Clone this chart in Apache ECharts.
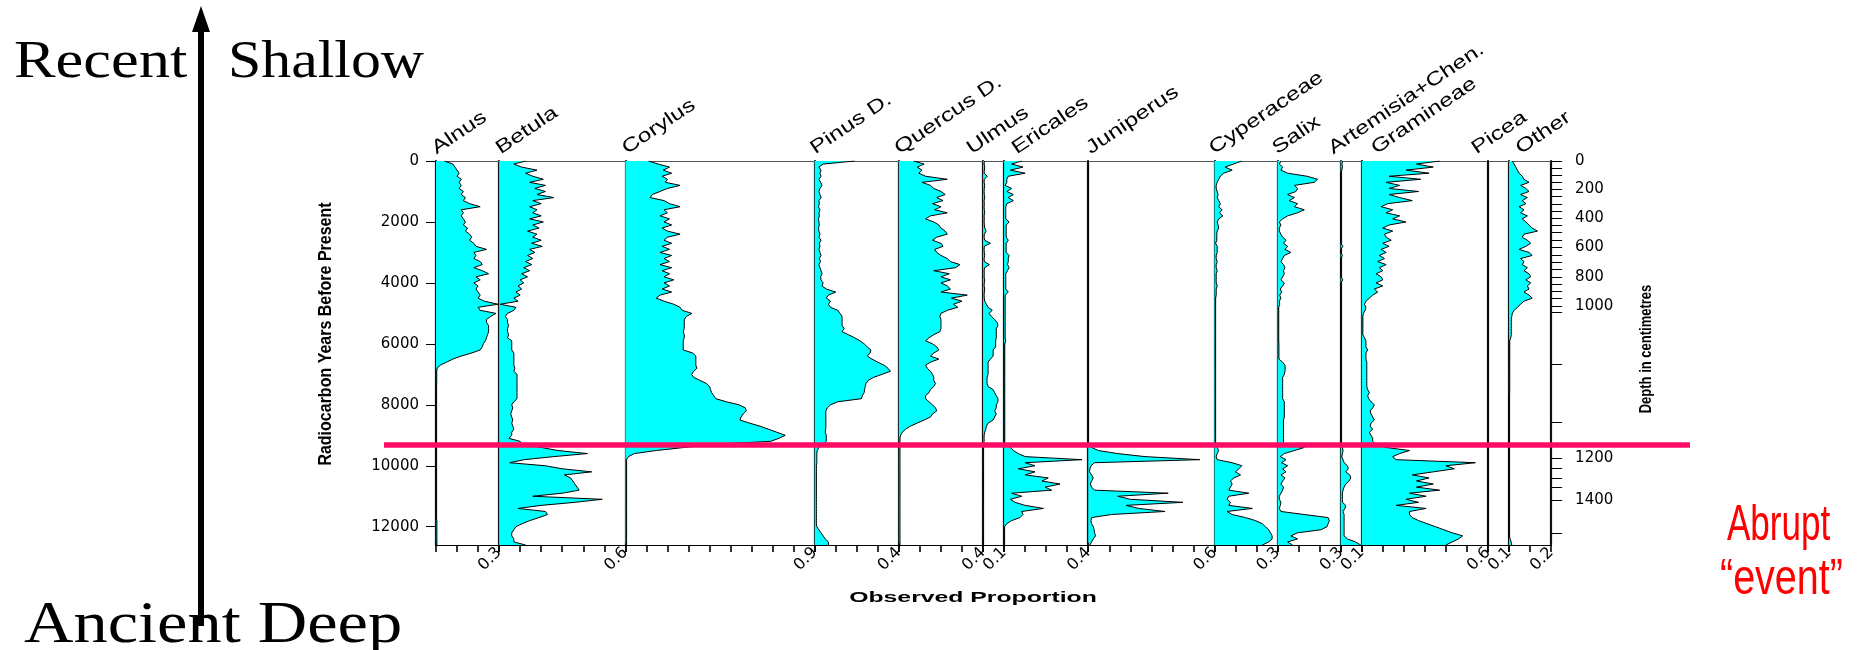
<!DOCTYPE html>
<html><head><meta charset="utf-8">
<script src="https://cdn.jsdelivr.net/npm/echarts@6/dist/echarts.min.js"></script>
<style>html,body{margin:0;padding:0;background:#fff}#c{width:1857px;height:650px}</style>
</head><body><div id="c"></div>
<script>
// sample ages (years BP), 100-year grid
const ages = [0,100,200,300,400,500,600,700,800,900,1000,1100,1200,1300,1400,1500,1600,1700,1800,1900,
2000,2100,2200,2300,2400,2500,2600,2700,2800,2900,3000,3100,3200,3300,3400,3500,3600,3700,3800,3900,
4000,4100,4200,4300,4400,4500,4600,4700,4800,4900,5000,5100,5200,5300,5400,5500,5600,5700,5800,5900,
6000,6100,6200,6300,6400,6500,6600,6700,6800,6900,7000,7100,7200,7300,7400,7500,7600,7700,7800,7900,
8000,8100,8200,8300,8400,8500,8600,8700,8800,8900,9000,9100,9200,9300,9400,9500,9600,9700,9800,9900,
10000,10100,10200,10300,10400,10500,10600,10700,10800,10900,11000,11100,11200,11300,11400,11500,11600,11700,11800,11900,
12000,12100,12200,12300,12400,12500,12600];

const taxa = ['Alnus','Betula','Corylus','Pinus D.','Quercus D.','Ulmus','Ericales','Juniperus','Cyperaceae','Salix','Artemisia+Chen.','Gramineae','Picea','Other'];
const panelMax = [0.3,0.6,0.9,0.4,0.4,0.1,0.4,0.6,0.3,0.3,0.1,0.6,0.1,0.2];
const tickLabels = ['0.3','0.6','0.9','0.4','0.4','0.1','0.4','0.6','0.3','0.3','0.1','0.6','0.1','0.2'];

const alnus = [
0.04,0.08,0.09,0.10,0.11,0.10,0.12,0.11,0.12,0.11,
0.13,0.12,0.14,0.13,0.16,0.21,0.12,0.13,0.12,0.13,
0.14,0.13,0.15,0.14,0.16,0.17,0.16,0.18,0.19,0.24,
0.18,0.19,0.18,0.21,0.22,0.18,0.22,0.25,0.19,0.21,
0.18,0.20,0.19,0.20,0.21,0.20,0.23,0.295,0.20,0.21,
0.285,0.26,0.24,0.24,0.25,0.25,0.25,0.245,0.24,0.235,
0.225,0.22,0.21,0.17,0.12,0.08,0.05,0.02,0.005,0.003,
0.003,0.003,0.003,0.003,0,0,0,0,0,0,
0,0,0,0,0,0,0,0,0,0,
0,0,0,0,0,0,0,0,0,0,
0,0,0,0,0,0,0,0,0,0,
0,0,0,0,0,0,0,0,0.004,0.004,
0.004,0.004,0.004,0.004,0.004,0.004,0.004];
const betula = [
0.126,0.07,0.107,0.18,0.126,0.16,0.21,0.145,0.22,0.17,
0.22,0.18,0.26,0.16,0.20,0.145,0.18,0.16,0.20,0.145,
0.21,0.16,0.19,0.135,0.18,0.16,0.20,0.155,0.205,0.145,
0.17,0.135,0.16,0.126,0.155,0.117,0.145,0.107,0.135,0.10,
0.117,0.09,0.107,0.08,0.10,0.07,0.09,0.005,0.08,0.07,
0.04,0.03,0.04,0.04,0.045,0.04,0.04,0.045,0.04,0.06,
0.06,0.06,0.06,0.07,0.07,0.07,0.07,0.07,0.075,0.07,
0.085,0.085,0.085,0.085,0.085,0.085,0.085,0.085,0.085,0.07,
0.06,0.065,0.06,0.055,0.06,0.065,0.06,0.065,0.07,0.06,
0.06,0.047,0.10,0.11,0.20,0.28,0.42,0.26,0.12,0.05,
0.22,0.30,0.44,0.31,0.34,0.35,0.36,0.37,0.38,0.30,
0.16,0.49,0.36,0.20,0.09,0.22,0.23,0.19,0.145,0.11,
0.08,0.07,0.06,0.06,0.07,0.07,0.126];
const corylus = [
0.11,0.156,0.21,0.18,0.22,0.175,0.20,0.19,0.26,0.20,
0.165,0.128,0.118,0.184,0.21,0.26,0.184,0.20,0.165,0.21,
0.184,0.22,0.175,0.20,0.26,0.20,0.184,0.22,0.175,0.21,
0.165,0.22,0.184,0.21,0.165,0.22,0.175,0.21,0.184,0.23,
0.184,0.21,0.175,0.22,0.165,0.147,0.184,0.23,0.26,0.27,
0.316,0.29,0.28,0.28,0.28,0.28,0.275,0.28,0.28,0.275,
0.275,0.275,0.275,0.32,0.335,0.335,0.335,0.335,0.34,0.325,
0.315,0.325,0.355,0.385,0.40,0.405,0.41,0.42,0.43,0.48,
0.54,0.57,0.575,0.56,0.55,0.545,0.59,0.64,0.68,0.72,
0.76,0.73,0.69,0.41,0.28,0.147,0.043,0.015,0.004,0.004,
0.004,0.004,0.004,0.004,0.004,0.004,0.004,0.004,0.004,0.004,
0.004,0.004,0.004,0.004,0.004,0.004,0.004,0.004,0.004,0.004,
0.004,0.004,0.004,0.004,0.004,0.004,0.004];
const pinus = [
0.19,0.04,0.02,0.03,0.025,0.03,0.02,0.028,0.035,0.025,
0.02,0.025,0.03,0.02,0.022,0.018,0.025,0.02,0.022,0.018,
0.02,0.022,0.018,0.02,0.025,0.02,0.03,0.022,0.025,0.02,
0.025,0.03,0.022,0.028,0.02,0.025,0.03,0.035,0.028,0.03,
0.04,0.035,0.055,0.10,0.065,0.055,0.075,0.065,0.075,0.11,
0.12,0.13,0.13,0.13,0.13,0.14,0.13,0.16,0.19,0.215,
0.235,0.25,0.267,0.263,0.25,0.272,0.30,0.33,0.348,0.36,
0.32,0.28,0.254,0.244,0.24,0.237,0.235,0.226,0.222,0.11,
0.075,0.06,0.053,0.053,0.053,0.053,0.053,0.053,0.052,0.05,
0.055,0.055,0.055,0.04,0.02,0.012,0.01,0.01,0.01,0.01,
0.008,0.008,0.008,0.008,0.008,0.008,0.008,0.008,0.008,0.008,
0.008,0.008,0.008,0.008,0.008,0.008,0.008,0.008,0.008,0.008,
0.01,0.02,0.03,0.04,0.05,0.065,0.065];
const quercus = [
0.07,0.12,0.087,0.11,0.095,0.127,0.23,0.11,0.15,0.166,
0.20,0.22,0.18,0.21,0.16,0.20,0.17,0.23,0.15,0.127,
0.166,0.19,0.20,0.22,0.23,0.18,0.16,0.20,0.21,0.17,
0.18,0.20,0.23,0.245,0.29,0.27,0.166,0.24,0.20,0.245,
0.20,0.23,0.245,0.20,0.325,0.25,0.30,0.26,0.28,0.23,
0.20,0.195,0.20,0.20,0.20,0.20,0.195,0.166,0.143,0.127,
0.16,0.18,0.19,0.166,0.15,0.19,0.15,0.127,0.135,0.15,
0.16,0.166,0.166,0.174,0.166,0.15,0.143,0.127,0.127,0.143,
0.16,0.174,0.18,0.16,0.15,0.12,0.087,0.055,0.032,0.016,
0.008,0.005,0.005,0.005,0.005,0.005,0.005,0.005,0.005,0.005,
0.005,0.005,0.005,0.005,0.005,0.005,0.005,0.005,0.005,0.005,
0.005,0.005,0.005,0.005,0.005,0.005,0.005,0.005,0.005,0.005,
0.005,0.005,0.005,0.005,0.005,0.005,0.005];
const ulmus = [
0.006,0.005,0.008,0.006,0.005,0.02,0.006,0.005,0.008,0.006,
0.005,0.006,0.008,0.005,0.006,0.005,0.006,0.008,0.005,0.006,
0.005,0.006,0.008,0.015,0.006,0.005,0.008,0.035,0.006,0.005,
0.006,0.008,0.005,0.006,0.03,0.008,0.005,0.006,0.005,0.008,
0.006,0.005,0.008,0.006,0.005,0.006,0.008,0.016,0.024,0.044,
0.028,0.04,0.055,0.067,0.071,0.063,0.063,0.063,0.063,0.06,
0.06,0.06,0.048,0.048,0.048,0.035,0.024,0.024,0.024,0.024,
0.024,0.019,0.019,0.019,0.024,0.048,0.055,0.063,0.071,0.071,
0.063,0.063,0.055,0.063,0.055,0.048,0.024,0.016,0.013,0.008,
0.005,0.005,0.005,0.004,0.002,0.002,0.002,0.002,0.002,0.002,
0.002,0.002,0.002,0.002,0.002,0.002,0.002,0.002,0.002,0.002,
0.002,0.002,0.002,0.002,0.002,0.002,0.002,0.002,0.002,0.002,
0.002,0.002,0.002,0.002,0.002,0.002,0.002];
const ericales = [
0.084,0.036,0.09,0.03,0.10,0.02,0.013,0.013,0.005,0.036,
0.013,0.044,0.02,0.044,0.013,0.008,0.008,0.008,0.008,0.008,
0.024,0.01,0.01,0.01,0.01,0.01,0.02,0.01,0.01,0.01,
0.01,0.024,0.02,0.02,0.016,0.024,0.016,0.008,0.008,0.008,
0.008,0.008,0.008,0.02,0.005,0.005,0.005,0.005,0.005,0.005,
0.005,0.005,0.005,0.005,0.005,0.005,0.005,0.005,0.005,0.008,
0.003,0.003,0.003,0.003,0.003,0.003,0.003,0.003,0.003,0.003,
0.003,0.003,0.003,0.003,0.003,0.003,0.003,0.003,0.003,0.003,
0.003,0.003,0.003,0.003,0.003,0.003,0.003,0.003,0.003,0.003,
0.003,0.003,0.003,0.002,0.03,0.044,0.068,0.10,0.37,0.10,
0.147,0.068,0.147,0.10,0.21,0.18,0.266,0.195,0.226,0.036,
0.084,0.03,0.052,0.10,0.187,0.084,0.09,0.076,0.036,0.013,
0.002,0,0,0,0,0,0];
const juniperus = [
0,0,0,0,0,0,0,0,0,0,
0,0,0,0,0,0,0,0,0,0,
0,0,0,0,0,0,0,0,0,0,
0,0,0,0,0,0,0,0,0,0,
0,0,0,0,0,0,0,0,0,0,
0,0,0,0,0,0,0,0,0,0,
0,0,0,0,0,0,0,0,0,0,
0,0,0,0,0,0,0,0,0,0,
0,0,0,0,0,0,0,0,0,0,
0,0,0,0,0.016,0.048,0.14,0.27,0.53,0.03,
0.013,0.008,0.006,0.016,0.024,0.016,0.01,0.016,0.03,0.38,
0.14,0.20,0.45,0.18,0.24,0.365,0.11,0.016,0.013,0.016,
0.024,0.028,0.03,0.035,0.024,0.016,0.008];
const cyperaceae = [
0.13,0.09,0.05,0.084,0.044,0.028,0.02,0.013,0.008,0.008,
0.013,0.017,0.013,0.02,0.028,0.02,0.036,0.024,0.04,0.02,
0.013,0.017,0.02,0.013,0.011,0.011,0.011,0.005,0.013,0.013,
0.013,0.008,0.008,0.013,0.008,0.008,0.013,0.008,0.008,0.008,
0.008,0.013,0.008,0.008,0.008,0.005,0.005,0.005,0.005,0.005,
0.005,0.005,0.005,0.005,0.005,0.005,0.005,0.005,0.005,0.005,
0.005,0.005,0.005,0.005,0.005,0.005,0.005,0.005,0.005,0.005,
0.005,0.005,0.005,0.005,0.005,0.005,0.005,0.005,0.005,0.005,
0.005,0.005,0.005,0.005,0.005,0.005,0.005,0.005,0.005,0.005,
0.005,0.005,0.005,0.005,0.013,0.02,0.013,0.008,0.013,0.084,
0.13,0.116,0.10,0.124,0.092,0.076,0.084,0.076,0.068,0.163,
0.068,0.06,0.076,0.068,0.18,0.06,0.084,0.147,0.195,0.227,
0.242,0.258,0.266,0.274,0.274,0.258,0.227];
const salix = [
0.016,0.008,0.024,0.016,0.048,0.14,0.19,0.174,0.08,0.095,
0.087,0.048,0.08,0.055,0.095,0.08,0.127,0.095,0.048,0.024,
0.008,0.016,0.008,0.008,0.016,0.024,0.04,0.028,0.048,0.035,
0.063,0.032,0.024,0.016,0.028,0.035,0.028,0.032,0.024,0.016,
0.032,0.024,0.013,0.019,0.01,0.016,0.008,0.01,0.005,0.005,
0.005,0.005,0.005,0.005,0.005,0.005,0.005,0.005,0.005,0.005,
0.006,0.006,0.006,0.006,0.006,0.006,0.024,0.035,0.036,0.035,
0.032,0.024,0.024,0.024,0.024,0.024,0.024,0.024,0.024,0.032,
0.032,0.032,0.032,0.032,0.032,0.028,0.028,0.028,0.028,0.028,
0.028,0.028,0.028,0.028,0.127,0.08,0.032,0.013,0.04,0.019,
0.048,0.024,0.04,0.016,0.035,0.024,0.016,0.028,0.024,0.016,
0.008,0.008,0.016,0.013,0.008,0.016,0.127,0.24,0.246,0.24,
0.235,0.206,0.095,0.063,0.095,0.048,0.071];
const artemisia = [
0.008,0.006,0.008,0.005,0,0,0,0,0,0,
0,0,0,0,0,0,0,0,0,0,
0,0,0,0,0,0,0,0,0.01,0,
0,0.008,0,0,0,0,0,0,0,0.01,
0,0,0,0,0,0,0,0,0,0,
0,0,0,0,0,0,0,0,0,0,
0,0,0,0,0,0,0,0,0,0,
0,0,0,0,0,0,0,0,0,0,
0,0,0,0,0,0,0,0,0,0,
0,0,0,0,0.008,0.011,0.008,0.005,0.011,0.016,
0.032,0.036,0.024,0.043,0.048,0.04,0.024,0.016,0.011,0.008,
0.008,0.008,0.008,0.024,0.02,0.011,0.016,0.016,0.016,0.016,
0.016,0.016,0.016,0.016,0.032,0.07,0.095];
const gramineae = [
0.37,0.26,0.34,0.21,0.32,0.13,0.28,0.116,0.18,0.13,
0.27,0.13,0.18,0.24,0.124,0.092,0.147,0.116,0.18,0.147,
0.21,0.13,0.10,0.147,0.108,0.116,0.14,0.10,0.13,0.092,
0.116,0.084,0.108,0.076,0.116,0.084,0.10,0.068,0.092,0.10,
0.068,0.10,0.06,0.076,0.052,0.036,0.02,0.013,0.02,0.016,
0.008,0.005,0.005,0.005,0.005,0.005,0.005,0.005,0.013,0.02,
0.02,0.02,0.028,0.02,0.02,0.02,0.024,0.024,0.024,0.024,
0.024,0.024,0.024,0.024,0.024,0.028,0.036,0.028,0.033,0.044,
0.06,0.052,0.04,0.044,0.052,0.06,0.044,0.04,0.052,0.036,
0.044,0.052,0.052,0.068,0.116,0.227,0.18,0.147,0.163,0.54,
0.40,0.44,0.34,0.24,0.32,0.26,0.34,0.26,0.37,0.227,
0.306,0.21,0.27,0.163,0.306,0.227,0.227,0.24,0.27,0.31,
0.35,0.39,0.43,0.48,0.46,0.43,0.40];
const picea = [
0,0,0,0,0,0,0,0,0,0,
0,0,0,0,0,0,0,0,0,0,
0,0,0,0,0,0,0,0,0,0,
0,0,0,0,0,0,0,0,0,0,
0,0,0,0,0,0,0,0,0,0,
0,0,0,0,0,0,0,0,0,0,
0,0,0,0,0,0,0,0,0,0,
0,0,0,0,0,0,0,0,0,0,
0,0,0,0,0,0,0,0,0,0,
0,0,0,0,0,0,0,0,0,0,
0,0,0,0,0,0,0,0,0,0,
0,0,0,0,0,0,0,0,0,0,
0,0,0,0,0,0,0];
const other = [
0.016,0.024,0.032,0.04,0.048,0.063,0.071,0.095,0.055,0.08,
0.095,0.055,0.087,0.063,0.08,0.048,0.071,0.055,0.087,0.063,
0.08,0.095,0.11,0.135,0.071,0.063,0.087,0.103,0.08,0.048,
0.095,0.11,0.055,0.071,0.063,0.087,0.071,0.095,0.103,0.08,
0.103,0.087,0.095,0.071,0.095,0.11,0.071,0.055,0.04,0.024,
0.016,0.013,0.011,0.011,0.011,0.011,0.011,0.011,0.008,0.003,
0.003,0.003,0.003,0.003,0.003,0.003,0.003,0.003,0.003,0.003,
0.003,0.003,0.003,0.003,0.003,0.003,0.003,0,0,0,
0,0,0,0,0,0,0,0,0,0,
0,0,0,0,0,0,0,0,0,0,
0,0,0,0,0,0,0,0,0,0,
0,0,0,0,0,0,0,0,0,0,
0,0,0,0,0.005,0.01,0.013];

const seriesValues = [alnus,betula,corylus,pinus,quercus,ulmus,ericales,juniperus,cyperaceae,salix,artemisia,gramineae,picea,other];

const ageTicks = [0,2000,4000,6000,8000,10000,12000];
const depthTicks = [0,50,100,150,200,250,300,350,400,450,500,550,600,650,700,750,800,850,900,950,1000,1050,1100,1150,1200,1250,1300,1350,1400,1450];
const depthTickAges = [0,230,460,700,930,1150,1410,1640,1880,2100,2330,2590,2830,3090,3320,3550,3800,4040,4270,4500,4750,4950,6670,8560,9740,10090,10400,10690,11130,12200];
const depthLabelDepths = [0,200,400,600,800,1000,1200,1400];
const eventAge = 9320;

// ---- layout (pixels) ----
const X0 = 436, UNIT = 210.4, TOP = 161, H = 384;
const nameOffsets = [3,4,4,3,3,-9,15,5,2,2,-5,17,-9,14];

const chart = echarts.init(document.getElementById('c'));
const grids = [], xAxes = [], yAxes = [], series = [], lefts = [];
let cum = 0;
taxa.forEach((t, i) => {
  const left = X0 + cum * UNIT, width = panelMax[i] * UNIT;
  cum += panelMax[i];
  lefts.push(left);
  grids.push({left: left, top: TOP, width: width, height: H, containLabel: false});
  xAxes.push({type: 'value', gridIndex: i, min: 0, max: panelMax[i], interval: 0.1, position: 'bottom',
    axisLine: {show: true, onZero: false, lineStyle: {color: '#000', width: 1}},
    axisTick: {show: true, length: 7, lineStyle: {color: '#000', width: 1.6}},
    axisLabel: {rotate: 45, margin: 5, fontSize: 16, fontFamily: 'DejaVu Sans', color: '#000',
      showMinLabel: true, showMaxLabel: true,
      formatter: v => Math.abs(v - panelMax[i]) < 1e-6 ? tickLabels[i] : ''},
    splitLine: {show: false}});
  xAxes.push({type: 'value', gridIndex: i, min: 0, max: panelMax[i], position: 'top',
    axisLine: {show: true, onZero: false, lineStyle: {color: '#555', width: 1}},
    axisTick: {show: false}, axisLabel: {show: false}, splitLine: {show: false}});
  yAxes.push({type: 'category', gridIndex: i, data: ages, inverse: true, boundaryGap: false,
    axisLine: {show: true, onZero: false, lineStyle: {color: '#111', width: 2.2}},
    axisTick: {show: false}, axisLabel: {show: false}, splitLine: {show: false}});
  series.push({type: 'line', name: t, xAxisIndex: 2 * i, yAxisIndex: i, data: seriesValues[i],
    symbol: 'none', silent: true, animation: false,
    lineStyle: {color: '#000', width: 1},
    areaStyle: {color: '#00FFFF', opacity: 1}});
});
// age axis (left)
yAxes.push({type: 'value', gridIndex: 0, min: 0, max: 12600, inverse: true, position: 'left',
  axisLine: {show: false, onZero: false},
  axisTick: {show: true, length: 10, customValues: ageTicks, lineStyle: {color: '#000', width: 1}},
  axisLabel: {customValues: ageTicks, margin: 17, fontSize: 15, fontFamily: 'DejaVu Sans', color: '#000',
    formatter: v => String(v)},
  splitLine: {show: false}});
const ageIdx = yAxes.length - 1;
// depth axis (right)
const depthLabelAges = depthLabelDepths.map(d => depthTickAges[depthTicks.indexOf(d)]);
yAxes.push({type: 'value', gridIndex: 13, min: 0, max: 12600, inverse: true, position: 'right',
  axisLine: {show: true, onZero: false, lineStyle: {color: '#111', width: 2.2}},
  axisTick: {show: true, length: 11, customValues: depthTickAges, lineStyle: {color: '#000', width: 1}},
  axisLabel: {customValues: depthLabelAges, margin: 24, fontSize: 15, fontFamily: 'DejaVu Sans', color: '#000',
    formatter: v => {
      let best = 0; depthTickAges.forEach((a, k) => { if (Math.abs(a - v) < Math.abs(depthTickAges[best] - v)) best = k; });
      return String(depthTicks[best]);
    }},
  splitLine: {show: false}});

chart.setOption({
  backgroundColor: '#fff',
  animation: false,
  grid: grids, xAxis: xAxes, yAxis: yAxes, series: series
});

const eventY = chart.convertToPixel({yAxisIndex: ageIdx}, eventAge);
const deg = Math.PI / 180;
const graphics = [];
taxa.forEach((t, i) => {
  graphics.push({type: 'text', x: lefts[i] + nameOffsets[i], y: 158, rotation: 34 * deg, scaleX: 1.3,
    style: {text: t, fill: '#000', font: '19px "Liberation Sans", Arial', align: 'left', verticalAlign: 'bottom'}});
});
graphics.push(
  {type: 'line', shape: {x1: 384, y1: eventY, x2: 1690, y2: eventY}, style: {stroke: '#FF0A64', lineWidth: 5.5}, z: 50},
  {type: 'text', x: 973, y: 598, scaleX: 1.65,
    style: {text: 'Observed Proportion', fill: '#000', font: 'bold 15px "Liberation Sans", Arial', align: 'center', verticalAlign: 'middle'}},
  {type: 'text', x: 326, y: 334, rotation: 90 * deg, scaleY: 1.2,
    style: {text: 'Radiocarbon Years Before Present', fill: '#000', font: 'bold 16px "Liberation Sans", Arial', align: 'center', verticalAlign: 'middle'}},
  {type: 'text', x: 1647, y: 349, rotation: 90 * deg, scaleY: 1.2,
    style: {text: 'Depth in centimetres', fill: '#000', font: 'bold 13px "Liberation Sans", Arial', align: 'center', verticalAlign: 'middle'}},
  {type: 'line', shape: {x1: 201, y1: 26, x2: 201, y2: 626}, style: {stroke: '#000', lineWidth: 6}},
  {type: 'polygon', shape: {points: [[192, 32], [210, 32], [201, 6]]}, style: {fill: '#000'}},
  {type: 'text', x: 14, y: 37, scaleX: 1.2, style: {text: 'Recent', fill: '#000', font: '52px "Liberation Serif", "Times New Roman", serif', align: 'left', verticalAlign: 'top'}},
  {type: 'text', x: 228, y: 37, scaleX: 1.15, style: {text: 'Shallow', fill: '#000', font: '52px "Liberation Serif", "Times New Roman", serif', align: 'left', verticalAlign: 'top'}},
  {type: 'text', x: 24, y: 597, scaleX: 1.16, style: {text: 'Ancient Deep', fill: '#000', font: '59px "Liberation Serif", "Times New Roman", serif', align: 'left', verticalAlign: 'top'}},
  {type: 'text', x: 1727, y: 501, scaleX: 0.7, style: {text: 'Abrupt', fill: '#FF0000', font: '50px "Liberation Sans", Arial, sans-serif', align: 'left', verticalAlign: 'top'}},
  {type: 'text', x: 1720, y: 555, scaleX: 0.79, style: {text: '\u201Cevent\u201D', fill: '#FF0000', font: '50px "Liberation Sans", Arial, sans-serif', align: 'left', verticalAlign: 'top'}}
);
chart.setOption({graphic: graphics});
</script>
</body></html>
